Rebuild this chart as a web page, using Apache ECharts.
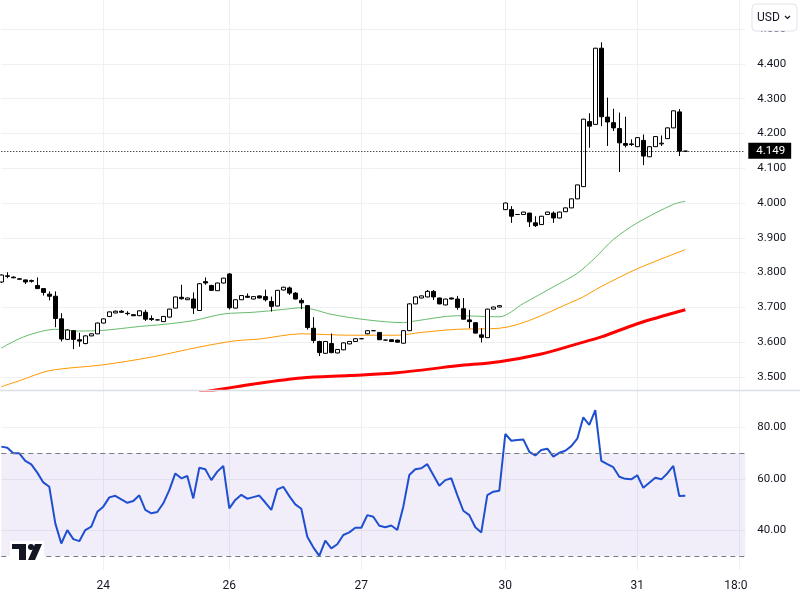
<!DOCTYPE html>
<html><head><meta charset="utf-8">
<script src="https://cdn.jsdelivr.net/npm/echarts@6/dist/echarts.min.js"></script>
<style>html,body{margin:0;padding:0;background:#fff}#c{width:800px;height:600px}</style>
</head><body><div id="c"></div><script>
// ---- data ----
const timeLabels = {17:'24',38:'26',60:'27',84:'30',106:'31',123:'18:00'};
const slotCount = 125;
const opens=[3.773,3.789,3.787,3.782,3.779,3.777,3.763,3.754,3.738,3.732,
3.667,3.608,3.633,3.607,3.596,3.618,3.624,3.655,3.674,3.684,
3.689,3.683,3.679,3.676,3.686,3.668,3.664,3.659,3.672,3.698,
3.729,3.722,3.724,3.691,3.774,3.763,3.748,3.770,3.796,3.698,
3.722,3.732,3.724,3.733,3.731,3.717,3.704,3.750,3.756,3.741,
3.720,3.705,3.640,3.602,3.568,3.596,3.569,3.578,3.595,3.602,
3.610,3.624,3.633,3.628,3.606,3.607,3.606,3.597,3.633,3.710,
3.727,3.730,3.746,3.727,3.707,3.727,3.724,3.696,3.664,3.656,
3.621,3.613,3.695,3.701,3.981,3.981,3.967,3.967,3.971,3.943,
3.938,3.967,3.971,3.957,3.975,3.986,4.012,4.047,4.234,4.226,
4.445,4.247,4.231,4.214,4.171,4.170,4.162,4.180,4.133,4.162,
4.170,4.185,4.216,4.262,4.149];
const closes=[3.793,3.791,3.785,3.781,3.773,3.775,3.754,3.743,3.732,3.668,
3.609,3.635,3.608,3.603,3.618,3.624,3.655,3.667,3.687,3.689,
3.686,3.682,3.676,3.690,3.666,3.665,3.664,3.674,3.695,3.730,
3.725,3.727,3.698,3.768,3.770,3.749,3.770,3.784,3.699,3.722,
3.734,3.729,3.731,3.727,3.722,3.703,3.749,3.758,3.741,3.724,
3.713,3.642,3.605,3.570,3.602,3.570,3.579,3.598,3.602,3.610,
3.610,3.633,3.633,3.607,3.606,3.602,3.600,3.633,3.710,3.730,
3.733,3.746,3.730,3.710,3.724,3.724,3.700,3.666,3.659,3.626,
3.614,3.695,3.701,3.705,4.000,3.962,3.967,3.974,3.946,3.935,
3.962,3.974,3.957,3.974,3.986,4.012,4.052,4.241,4.221,4.445,
4.248,4.233,4.216,4.173,4.166,4.168,4.188,4.135,4.162,4.191,
4.172,4.216,4.265,4.149,4.149];
const lows=[3.770,3.784,3.784,3.780,3.767,3.771,3.753,3.734,3.720,3.643,
3.602,3.606,3.580,3.587,3.594,3.617,3.623,3.654,3.672,3.683,
3.684,3.677,3.675,3.675,3.661,3.661,3.663,3.658,3.671,3.697,
3.722,3.721,3.681,3.690,3.765,3.748,3.747,3.769,3.694,3.697,
3.721,3.727,3.723,3.726,3.717,3.688,3.703,3.749,3.736,3.723,
3.695,3.636,3.597,3.560,3.567,3.568,3.568,3.577,3.594,3.601,
3.609,3.623,3.632,3.606,3.605,3.601,3.599,3.596,3.632,3.709,
3.726,3.729,3.721,3.709,3.706,3.723,3.693,3.665,3.640,3.625,
3.599,3.612,3.694,3.700,3.980,3.943,3.966,3.966,3.931,3.931,
3.937,3.966,3.943,3.956,3.974,3.985,4.011,4.046,4.159,4.225,
4.221,4.164,4.207,4.089,4.160,4.164,4.161,4.109,4.132,4.161,
4.164,4.184,4.215,4.135,4.148];
const highs=[3.795,3.801,3.789,3.783,3.780,3.780,3.786,3.755,3.746,3.746,
3.683,3.637,3.634,3.627,3.620,3.625,3.656,3.668,3.688,3.691,
3.692,3.689,3.680,3.691,3.693,3.677,3.665,3.675,3.696,3.731,
3.765,3.728,3.743,3.770,3.786,3.765,3.771,3.785,3.799,3.723,
3.735,3.740,3.732,3.734,3.751,3.731,3.750,3.759,3.760,3.744,
3.726,3.706,3.672,3.604,3.603,3.625,3.580,3.599,3.603,3.611,
3.611,3.634,3.634,3.629,3.607,3.608,3.607,3.634,3.712,3.731,
3.734,3.750,3.750,3.728,3.725,3.728,3.733,3.727,3.693,3.657,
3.640,3.696,3.702,3.706,4.001,3.991,3.968,3.975,3.972,3.962,
3.963,3.975,3.976,3.975,3.987,4.013,4.053,4.242,4.258,4.446,
4.462,4.303,4.271,4.260,4.248,4.183,4.189,4.197,4.163,4.192,
4.194,4.217,4.266,4.270,4.150];
const rsi=[72.5,72.1,69.9,69.9,67.0,65.6,62.4,58.6,56.9,42.7,
34.9,40.1,36.6,35.8,40.1,41.4,47.2,49.2,52.8,53.4,
52.0,50.7,51.4,53.6,47.9,46.6,47.1,50.5,55.6,62.1,
60.2,61.1,52.4,64.3,63.7,59.5,62.8,65.0,48.5,51.8,
53.8,52.3,52.9,53.5,50.8,47.9,55.9,56.9,53.3,50.1,
48.4,37.5,33.4,30.1,36.0,33.0,34.6,38.2,39.2,41.0,
41.0,45.9,45.3,41.8,41.2,41.9,40.1,49.2,61.5,63.7,
64.1,65.7,61.5,57.3,59.5,60.2,53.7,47.6,45.9,41.2,
39.2,53.7,55.0,55.4,77.4,74.8,75.1,75.3,70.5,69.1,
71.2,71.7,68.6,70.1,70.9,72.7,75.6,83.9,80.9,86.7,
67.0,65.7,64.5,60.8,60.0,59.8,61.4,56.5,58.5,60.4,
59.8,62.1,65.0,53.3,53.4];
const maGreen=[[0,3.583],[3,3.610],[6,3.628],[9,3.637],[13,3.632],[17,3.634],[23,3.645],[27,3.651],[32,3.662],[37,3.681],[42,3.686],[47,3.694],[50,3.699],[52,3.694],[55,3.680],[61,3.664],[67,3.656],[69,3.661],[76,3.676],[83,3.673],[87,3.711],[92,3.759],[96,3.798],[99,3.843],[102,3.895],[106,3.943],[112,3.996],[114,4.005]];
const maOrange=[[0,3.472],[3,3.489],[8,3.518],[17,3.535],[25,3.557],[33,3.586],[39,3.604],[43,3.609],[50,3.624],[58,3.620],[66,3.620],[70,3.628],[76,3.637],[83,3.640],[96,3.722],[100,3.760],[106,3.811],[114,3.866]];
const maRed=[[33,3.455],[43,3.482],[50,3.497],[58,3.504],[66,3.512],[76,3.532],[83,3.544],[90,3.566],[96,3.595],[100,3.615],[106,3.653],[114,3.693]];
const priceTicks=[3.5,3.6,3.7,3.8,3.9,4.0,4.1,4.2,4.3,4.4,4.5];
const rsiTicks=[40,60,80];
const lastPrice=4.149;

// ---- build ----
const categories=Array.from({length:slotCount},(_,i)=>timeLabels[i]||'');
const candles=opens.map((o,i)=>[o,closes[i],lows[i],highs[i]]);
const labelIdx=Object.keys(timeLabels).map(Number);
const showAt=(i)=>labelIdx.indexOf(i)>=0;
const gridColor='#eef0f4';
const textColor='#131722';
const font='Roboto';

const chart=echarts.init(document.getElementById('c'),null,{renderer:'canvas'});
const xBase={type:'category',data:categories,boundaryGap:false,
  axisLine:{show:false},axisTick:{show:false},
  splitLine:{show:true,interval:(i)=>showAt(i),lineStyle:{color:gridColor,width:1}}};
chart.setOption({
  animation:false,
  backgroundColor:'#fff',
  grid:[{left:1.3,top:0,width:744,height:390},{left:1.3,top:391,width:744,height:179}],
  xAxis:[
    Object.assign({},xBase,{gridIndex:0,axisLabel:{show:false}}),
    Object.assign({},xBase,{gridIndex:1,axisLabel:{show:true,interval:(i)=>showAt(i),color:textColor,fontSize:12,fontFamily:font,margin:10}})
  ],
  yAxis:[
    {type:'value',gridIndex:0,position:'right',min:3.4625,max:4.5836,
     axisLine:{show:false},axisTick:{show:false,customValues:priceTicks},
     axisLabel:{customValues:priceTicks,formatter:(v)=>v.toFixed(3),color:textColor,fontSize:11.5,fontFamily:font,margin:12},
     splitLine:{show:true,lineStyle:{color:gridColor}}},
    {type:'value',gridIndex:1,position:'right',min:24.6,max:94.1,
     axisLine:{show:false},axisTick:{show:false,customValues:rsiTicks},
     axisLabel:{customValues:rsiTicks,formatter:(v)=>v.toFixed(2),color:textColor,fontSize:11.5,fontFamily:font,margin:12},
     splitLine:{show:true,lineStyle:{color:gridColor}}}
  ],
  series:[
    {type:'line',name:'MA200',xAxisIndex:0,yAxisIndex:0,data:maRed,showSymbol:false,smooth:0.3,
     lineStyle:{color:'#ff0000',width:3},z:2},
    {type:'line',name:'MA50',xAxisIndex:0,yAxisIndex:0,data:maOrange,showSymbol:false,smooth:0.3,
     lineStyle:{color:'#ff9800',width:1},z:2},
    {type:'line',name:'MA20',xAxisIndex:0,yAxisIndex:0,data:maGreen,showSymbol:false,smooth:0.3,
     lineStyle:{color:'#66bb6a',width:1},z:2},
    {type:'candlestick',xAxisIndex:0,yAxisIndex:0,data:candles,barWidth:4,z:3,
     itemStyle:{color:'#ffffff',color0:'#000000',borderColor:'#000000',borderColor0:'#000000',borderWidth:1},
     markLine:{silent:true,symbol:['none','none'],animation:false,
       lineStyle:{color:'#000',type:[1,2],width:1},
       label:{show:true,position:'end',distance:3,formatter:()=>lastPrice.toFixed(3),
         backgroundColor:'#000',color:'#fff',fontSize:11.5,fontFamily:font,padding:[2,6,2,8]},
       data:[{yAxis:lastPrice}]}},
    {type:'line',name:'RSI',xAxisIndex:1,yAxisIndex:1,data:rsi,showSymbol:false,
     lineStyle:{color:'#1f4fd1',width:2},z:3,
     markArea:{silent:true,itemStyle:{color:'rgba(126,87,194,0.1)'},data:[[{yAxis:30},{yAxis:70}]]},
     markLine:{silent:true,symbol:['none','none'],label:{show:false},
       lineStyle:{color:'#787b86',type:[5,4],width:1},data:[{yAxis:70},{yAxis:30}]}}
  ],
  graphic:[
    {type:'line',z:50,shape:{x1:0,y1:390.5,x2:800,y2:390.5},style:{stroke:'#dcdfe6',lineWidth:1.5}},
    {type:'rect',z:100,shape:{x:747,y:572,width:53,height:28},style:{fill:'#fff'}},
    {type:'rect',z:100,shape:{x:752,y:4,width:45,height:27,r:4},style:{fill:'#fff',stroke:'#e0e3eb',lineWidth:1}},
    {type:'text',z:101,style:{x:757,y:17.5,text:'USD',fill:textColor,fontSize:12,fontFamily:font,verticalAlign:'middle'}},
    {type:'polyline',z:101,shape:{points:[[785,16],[787.5,18.5],[790,16]]},style:{stroke:textColor,lineWidth:1.2,fill:null}},
    {type:'rect',z:60,shape:{x:10,y:541,width:34,height:19},style:{fill:'#fff'}},
    {type:'rect',z:61,shape:{x:12,y:544,width:14,height:5},style:{fill:'#131722'}},
    {type:'rect',z:61,shape:{x:19,y:544,width:7,height:16},style:{fill:'#131722'}},
    {type:'circle',z:61,shape:{cx:31,cy:547,r:3},style:{fill:'#131722'}},
    {type:'polygon',z:61,shape:{points:[[35,544],[42,544],[35,560],[28,560]]},style:{fill:'#131722'}}
  ]
});
</script></body></html>
